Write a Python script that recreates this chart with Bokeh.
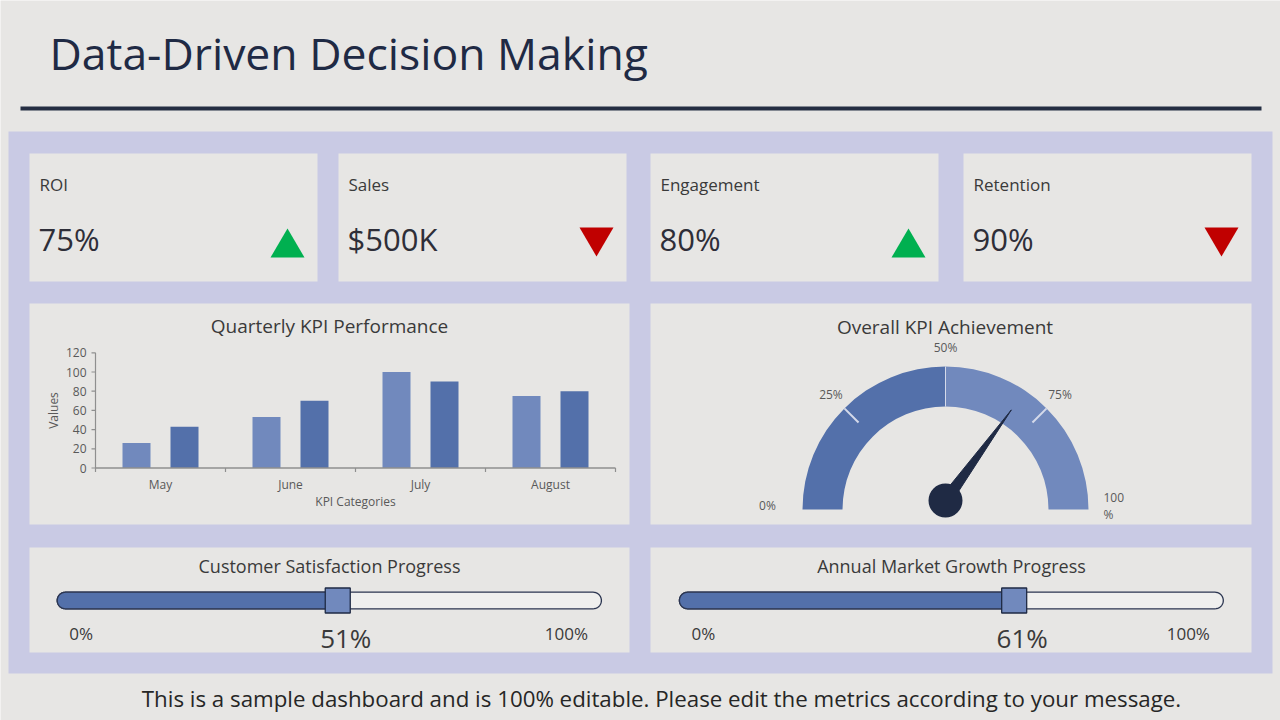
import numpy as np
from bokeh.plotting import figure
from bokeh.models import Range1d
from bokeh.core.properties import value
from bokeh.embed import file_html
from bokeh.resources import INLINE

# ---------------- data ----------------
title = "Data-Driven Decision Making"
kpi_names = ["ROI", "Sales", "Engagement", "Retention"]
kpi_values = ["75%", "$500K", "80%", "90%"]
kpi_trend = ["up", "down", "up", "down"]

bar_title = "Quarterly KPI Performance"
months = ["May", "June", "July", "August"]
series_a = [26, 53, 100, 75]
series_b = [43, 70, 90, 80]
y_ticks = [0, 20, 40, 60, 80, 100, 120]
y_label = "Values"
x_label = "KPI Categories"

gauge_title = "Overall KPI Achievement"
gauge_value = 70
gauge_ticks = [0, 25, 50, 75, 100]
gauge_tick_labels = ["0%", "25%", "50%", "75%", "100\n%"]
gauge_bands = [(0, 50), (50, 100)]

progress_titles = ["Customer Satisfaction Progress", "Annual Market Growth Progress"]
progress_values = [51, 61]

footer = "This is a sample dashboard and is 100% editable. Please edit the metrics according to your message."

# ---------------- style ----------------
W, H = 1280, 720
FONT = "Open Sans"
BG = "#E7E6E4"
PANEL = "#C9CAE4"
CARD = "#E7E6E4"
NAVY = "#1F2A44"
TXT = "#3A3A3A"
LIGHT = "#7189BD"
DARK = "#5370AA"
GREEN = "#00B050"
RED = "#C00000"
AXIS = "#8F8F8F"


def Y(py):
    return H - py


p = figure(width=W, height=H, x_range=Range1d(0, W), y_range=Range1d(0, H),
           output_backend="svg", toolbar_location=None, min_border=0,
           x_axis_type=None, y_axis_type=None,
           background_fill_color=BG, border_fill_color=BG, outline_line_color=None)
p.grid.grid_line_color = None


def txt(x, y, s, size, color=TXT, align="left", baseline="middle", angle=0.0, **kw):
    p.text(x=[x], y=[Y(y)], text=[s], text_font=value(FONT), text_font_size=f"{size}px",
           text_color=color, text_align=align, text_baseline=baseline, angle=angle, **kw)


def box(l, r, t, b, color, **kw):
    p.quad(left=[l], right=[r], top=[Y(t)], bottom=[Y(b)], fill_color=color, line_color=None, **kw)


# title + rule
txt(49, 52, title, 44.5, color=NAVY)
box(20, 1261, 106, 110, "#252E42")

# panel
box(8, 1272, 131, 673, PANEL)

# ---------------- KPI cards ----------------
card_lefts = [29, 338, 650, 963]
card_w = 288
for i, (name, val, tr) in enumerate(zip(kpi_names, kpi_values, kpi_trend)):
    l = card_lefts[i]
    box(l, l + card_w, 153, 281, CARD)
    txt(l + 10, 184, name, 17)
    txt(l + 9, 238, val, 31, color="#2E2E38")
    cx = l + card_w - 30
    if tr == "up":
        xs = [cx - 17, cx + 17, cx]
        ys = [Y(257), Y(257), Y(228)]
        col = GREEN
    else:
        xs = [cx - 17, cx + 17, cx]
        ys = [Y(227), Y(227), Y(256)]
        col = RED
    p.patch(xs, ys, fill_color=col, line_color=None)

# ---------------- chart cards ----------------
box(29, 629, 303, 524, CARD)
box(650, 1251, 303, 524, CARD)
box(29, 629, 547, 652, CARD)
box(650, 1251, 547, 652, CARD)

# ---------------- bar chart (own scales) ----------------
zero_px, top_px = 467.5, 352.3          # pixel rows of 0 and 120
k = (zero_px - top_px) / 120.0          # px per unit
p.extra_y_ranges = {"by": Range1d(-Y(zero_px) / k, (H - Y(zero_px)) / k)}
x0_px, step_px = 160.0, 130.0           # pixel column of first category, spacing
p.extra_x_ranges = {"bx": Range1d(-x0_px / step_px, (W - x0_px) / step_px)}

idx = np.arange(len(months), dtype=float)
off, bw = 24 / step_px, 28 / step_px
p.vbar(x=idx - off, top=series_a, bottom=0, width=bw, fill_color=LIGHT, line_color=None,
       x_range_name="bx", y_range_name="by")
p.vbar(x=idx + off, top=series_b, bottom=0, width=bw, fill_color=DARK, line_color=None,
       x_range_name="bx", y_range_name="by")

x_lo, x_hi = -0.5, len(months) - 0.5
ymax = y_ticks[-1]
# axes lines
p.segment(x0=[x_lo], y0=[0], x1=[x_hi], y1=[0], line_color=AXIS, line_width=1.5,
          x_range_name="bx", y_range_name="by")
p.segment(x0=[x_lo], y0=[0], x1=[x_lo], y1=[ymax], line_color=AXIS, line_width=1.2,
          x_range_name="bx", y_range_name="by")
# y ticks
p.segment(x0=[x_lo] * len(y_ticks), y0=y_ticks, x1=[x_lo - 4 / step_px] * len(y_ticks), y1=y_ticks,
          line_color=AXIS, line_width=1.2, x_range_name="bx", y_range_name="by")
p.text(x=[x_lo] * len(y_ticks), y=y_ticks, text=[str(t) for t in y_ticks], x_offset=-9,
       text_font=value(FONT), text_font_size="12px", text_color="#595959",
       text_align="right", text_baseline="middle", x_range_name="bx", y_range_name="by")
# x ticks (between categories)
xt = np.arange(len(months) + 1) - 0.5
p.segment(x0=xt, y0=[0] * len(xt), x1=xt, y1=[-4 / k] * len(xt), line_color=AXIS, line_width=1.2,
          x_range_name="bx", y_range_name="by")
p.text(x=idx, y=[0] * len(months), text=months, y_offset=16,
       text_font=value(FONT), text_font_size="12px", text_color="#595959",
       text_align="center", text_baseline="middle", x_range_name="bx", y_range_name="by")
txt(329, 325, bar_title, 19, align="center")
txt(355, 501, x_label, 12, color="#595959", align="center")
txt(53, 410, y_label, 12, color="#595959", align="center", angle=np.pi / 2)

# ---------------- gauge ----------------
gcx, gcy = 945, 509
r_in, r_out = 103, 143


def ang(v):
    return np.pi * (1 - v / 100.0)


band_cols = [DARK, LIGHT]
for (a, b), col in zip(gauge_bands, band_cols):
    p.annular_wedge(x=[gcx], y=[Y(gcy)], inner_radius=r_in, outer_radius=r_out,
                    start_angle=ang(b), end_angle=ang(a), direction="anticlock",
                    fill_color=col, line_color=None)
# separators
for t in gauge_ticks[1:-1]:
    a = ang(t)
    rs = r_in if t == 50 else 123
    lw = 1 if t == 50 else 2
    p.segment(x0=[gcx + rs * np.cos(a)], y0=[Y(gcy) + rs * np.sin(a)],
              x1=[gcx + r_out * np.cos(a)], y1=[Y(gcy) + r_out * np.sin(a)],
              line_color="#D5DAEA", line_width=lw)
# labels
label_r = [175, 162, 162, 162, 158]
label_align = ["center", "center", "center", "center", "left"]
label_dy = [-4, 0, 0, 0, -4]
label_dx = [-3, 0, 0, 0, 0]
for t, s, r, al, dy, dx in zip(gauge_ticks, gauge_tick_labels, label_r, label_align, label_dy, label_dx):
    a = ang(t)
    lx = gcx + r * np.cos(a) + dx
    ly = gcy - r * np.sin(a) + dy
    txt(lx, ly, s, 12, color="#595959", align=al, text_line_height=1.0)
txt(944.5, 326, gauge_title, 19, align="center")

# needle
hx, hy = 945, 500
a = ang(gauge_value)
nl = 112
tipx, tipy = hx + nl * np.cos(a), Y(hy) + nl * np.sin(a)
px_, py_ = -np.sin(a), np.cos(a)
hw = 6
p.patch([hx + hw * px_, tipx, hx - hw * px_], [Y(hy) + hw * py_, tipy, Y(hy) - hw * py_],
        fill_color=NAVY, line_color=NAVY, line_width=1)
p.circle(x=[hx], y=[Y(hy)], radius=17, fill_color=NAVY, line_color=None)

# ---------------- progress bars ----------------
track_x0 = [56.7, 678.9]
track_x1 = [600.9, 1222.8]
title_cx = [329, 951]
cy_px = 600
rr = 8.3


def pill(x0, x1, cy, r, round_right=True):
    t = np.linspace(np.pi / 2, 3 * np.pi / 2, 24)
    lx = x0 + r + r * np.cos(t)
    ly = cy + r * np.sin(t)
    if round_right:
        t2 = np.linspace(-np.pi / 2, np.pi / 2, 24)
        rx = x1 - r + r * np.cos(t2)
        ry = cy + r * np.sin(t2)
    else:
        rx = np.array([x1, x1])
        ry = np.array([cy - r, cy + r])
    return np.concatenate([lx, rx]), np.concatenate([ly, ry])


for ttl, v, x0, x1, tcx in zip(progress_titles, progress_values, track_x0, track_x1, title_cx):
    xv = x0 + (x1 - x0) * v / 100.0
    xs, ys = pill(x0, x1, Y(cy_px), rr)
    p.patch(xs, ys, fill_color="#EFEFEE", line_color="#2B3550", line_width=1.3)
    xs, ys = pill(x0, xv, Y(cy_px), rr, round_right=False)
    p.patch(xs, ys, fill_color=DARK, line_color="#2B3550", line_width=1.3)
    p.rect(x=[xv + 3], y=[Y(cy_px)], width=25, height=25, fill_color=LIGHT,
           line_color="#1F2A44", line_width=1.3)
    txt(tcx, 565, ttl, 18, align="center")
    txt(x0 + 24, 633, "0%", 17, align="center")
    txt(x1 - 35, 633, "100%", 17, align="center")
    txt(xv + 11, 637, f"{v}%", 26, align="center")

# footer
txt(661, 698, footer, 22.3, color="#262626", align="center")

open("out.html", "w").write(file_html(p, INLINE))
